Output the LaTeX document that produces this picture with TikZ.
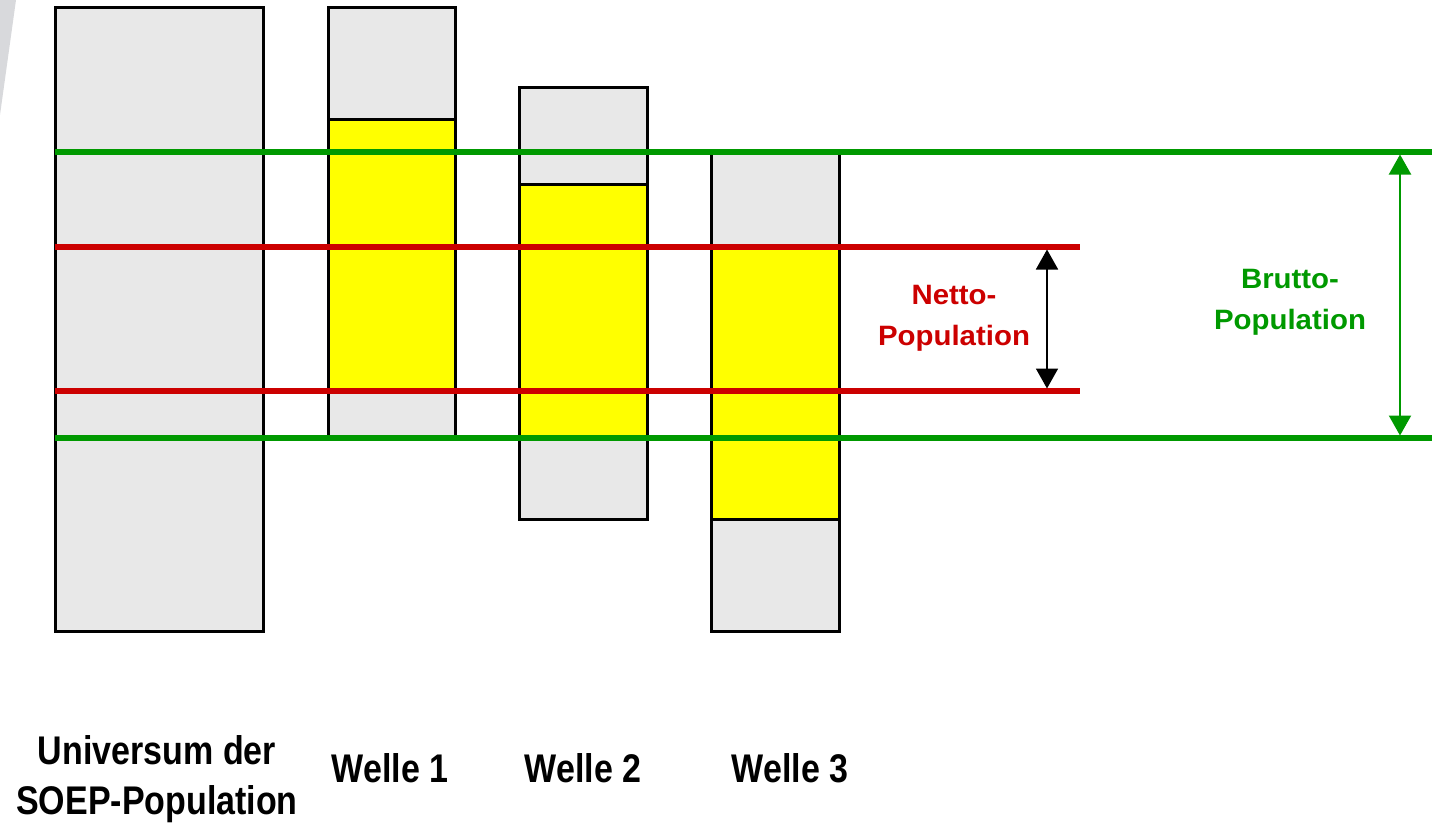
\documentclass[tikz,border=0pt]{standalone}
\usepackage{fontspec}
\setmainfont{Liberation Sans}
\newfontfamily\narrowfont{Liberation Sans}[FakeStretch=0.85]
\newfontfamily\widefont{Liberation Sans}[FakeStretch=1.05]
\usetikzlibrary{arrows.meta}
\definecolor{boxgrey}{HTML}{E8E8E8}
\definecolor{boxyellow}{HTML}{FFFF00}
\definecolor{popgreen}{HTML}{009900}
\definecolor{popred}{HTML}{CC0000}
\definecolor{wedge}{HTML}{D8D9DC}
\begin{document}
\begin{tikzpicture}[x=1pt,y=-1pt,
  greypart/.style={fill=boxgrey,draw=black,line width=3pt},
  yellowpart/.style={fill=boxyellow,draw=black,line width=3pt},
  greenline/.style={draw=popgreen,line width=5.5pt},
  redline/.style={draw=popred,line width=5.5pt},
  netarrow/.style={draw=black,line width=1.8pt,{Triangle[length=20pt,width=22pt]}-{Triangle[length=20pt,width=22pt]}},
  brutarrow/.style={draw=popgreen,line width=2.2pt,{Triangle[length=20pt,width=22pt]}-{Triangle[length=20pt,width=22pt]}},
  collabel/.style={font=\narrowfont\bfseries\fontsize{40}{50}\selectfont,align=center,inner sep=0pt},
  poplabel/.style={font=\widefont\bfseries\fontsize{28}{41}\selectfont,align=center,inner sep=0pt}
]
\useasboundingbox (0,0) rectangle (1437,824);
\fill[wedge] (0,0) -- (16,0) -- (0,115) -- cycle;
% Universum
\draw[greypart] (55,8) rectangle (263,631);
% Welle 1
\draw[greypart] (328,8) rectangle (455,120);
\draw[yellowpart] (328,120) rectangle (455,391);
\draw[greypart] (328,391) rectangle (455,437);
% Welle 2
\draw[greypart] (519,88) rectangle (647,184);
\draw[yellowpart] (519,184) rectangle (647,437);
\draw[greypart] (519,437) rectangle (647,519);
% Welle 3
\draw[greypart] (711,152) rectangle (839,247);
\draw[yellowpart] (711,247) rectangle (839,519);
\draw[greypart] (711,519) rectangle (839,631);
% lines
\coordinate (gtl) at (55,152); \coordinate (gtr) at (1432,152);
\coordinate (gbl) at (55,438); \coordinate (gbr) at (1432,438);
\coordinate (rtl) at (55,247); \coordinate (rtr) at (1080,247);
\coordinate (rbl) at (55,391); \coordinate (rbr) at (1080,391);
\draw[greenline] (gtl) -- (gtr);
\draw[greenline] (gbl) -- (gbr);
\draw[redline] (rtl) -- (rtr);
\draw[redline] (rbl) -- (rbr);
% arrows
\coordinate (na) at (1047,249.5); \coordinate (nb) at (1047,388.5);
\coordinate (ba) at (1400,154.5); \coordinate (bb) at (1400,435.5);
\draw[netarrow] (na) -- (nb);
\draw[brutarrow] (ba) -- (bb);
% labels
\node[poplabel,text=popred] (netto) at (954,318) {Netto-\\Population};
\node[poplabel,text=popgreen] (brutto) at (1290,302) {Brutto-\\Population};
\node[collabel] (univ) at (157,779) {Universum der\\SOEP-Population};
\node[collabel] (w1) at (390,768) {Welle 1};
\node[collabel] (w2) at (583,768) {Welle 2};
\node[collabel] (w3) at (790,768) {Welle 3};
\end{tikzpicture}
\end{document}
